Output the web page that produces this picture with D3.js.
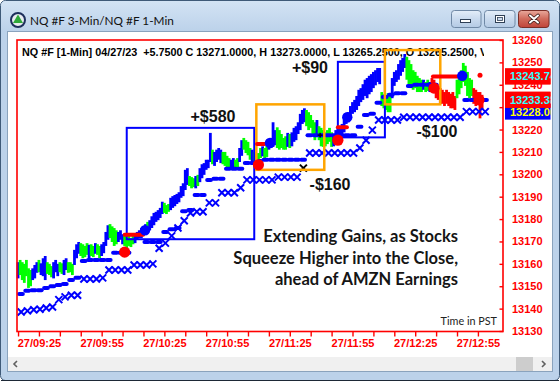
<!DOCTYPE html>
<html><head><meta charset="utf-8">
<script src="https://cdn.jsdelivr.net/npm/d3@7"></script>
<style>
html,body{margin:0;padding:0;background:#fff;}
svg{display:block;}
</style></head><body>
<svg id="c" width="560" height="381"></svg>
<script>
// ================= DATA =================
const windowTitle = "NQ #F 3-Min/NQ #F 1-Min";
const headerText = "NQ #F [1-Min] 04/27/23  +5.7500 C 13271.0000, H 13273.0000, L 13265.2500, O 13265.2500, V 412";
const firstBarTime = "09:15";
// 1-minute bars (high / low / paint colour B=blue G=green R=red)
const barHigh = [13160.75,13161.75,13160.75,13160.0,13161.75,13158.0,13157.25,13158.0,13159.5,13160.75,
13161.75,13160.25,13162.5,13163.5,13160.75,13160.0,13159.0,13160.75,13161.75,13160.0,
13160.75,13160.25,13161.75,13162.5,13160.75,13160.75,13160.0,13166.25,13168.75,13169.75,
13169.25,13168.75,13168.0,13169.25,13168.5,13168.75,13168.0,13169.25,13168.75,13168.0,
13168.75,13169.75,13174.25,13177.25,13177.75,13176.75,13176.0,13175.0,13174.25,13175.0,
13173.25,13172.5,13171.5,13172.5,13171.5,13172.5,13172.75,13174.25,13175.0,13176.0,
13176.75,13177.75,13178.75,13179.5,13181.25,13182.75,13183.25,13184.0,13185.0,13187.75,
13187.25,13186.25,13186.75,13189.5,13190.25,13190.75,13191.25,13192.0,13194.75,13196.0,
13202.0,13202.75,13199.25,13198.75,13198.25,13199.25,13199.75,13202.75,13204.5,13205.0,
13206.5,13206.5,13218.5,13211.0,13210.0,13211.0,13211.75,13211.0,13210.0,13210.0,
13208.25,13207.25,13206.5,13207.25,13206.5,13207.25,13211.75,13215.25,13216.25,13215.25,
13214.5,13211.75,13211.0,13210.0,13209.0,13209.5,13211.75,13212.5,13211.75,13213.0,
13215.25,13216.25,13223.25,13219.75,13221.0,13219.75,13218.0,13216.25,13217.0,13218.5,
13218.0,13218.75,13220.75,13221.5,13223.25,13227.0,13228.75,13229.5,13228.75,13227.75,
13226.5,13224.25,13223.25,13224.25,13221.5,13220.75,13219.75,13218.75,13219.75,13220.75,
13218.75,13218.0,13219.75,13220.75,13221.5,13222.5,13224.25,13227.0,13227.75,13230.5,
13232.25,13233.25,13235.0,13237.75,13238.5,13240.25,13242.25,13243.0,13244.0,13244.75,
13245.75,13246.5,13247.5,13247.5,13236.75,13235.75,13235.5,13236.25,13235.0,13243.0,
13245.75,13246.5,13249.25,13251.0,13252.0,13253.75,13252.5,13251.0,13249.25,13246.5,
13245.75,13244.0,13243.0,13242.25,13242.25,13241.25,13242.25,13241.25,13243.0,13242.25,
13240.25,13239.5,13238.5,13237.75,13236.75,13237.75,13236.75,13236.0,13236.75,13235.0,
13242.25,13244.0,13246.5,13249.75,13248.5,13245.75,13243.0,13242.25,13238.5,13237.75,
13236.75,13236.75,13235.5];
const barLow = [13153.5,13155.0,13152.75,13151.5,13154.5,13149.25,13150.0,13152.75,13153.5,13156.0,
13156.25,13155.0,13154.5,13152.75,13155.5,13155.0,13154.0,13153.5,13156.25,13154.5,
13156.25,13155.5,13155.0,13157.25,13156.0,13156.25,13155.0,13159.5,13162.5,13164.5,
13163.5,13162.5,13163.0,13164.0,13162.5,13163.5,13163.0,13164.5,13164.0,13162.5,
13163.5,13164.75,13168.0,13170.75,13171.5,13169.75,13168.0,13168.75,13169.75,13170.75,
13168.75,13168.0,13167.0,13168.0,13167.5,13168.75,13169.25,13170.75,13171.5,13171.5,
13172.5,13173.25,13174.25,13175.0,13176.0,13177.25,13178.75,13179.5,13180.5,13182.25,
13182.75,13182.25,13183.25,13184.0,13185.0,13185.75,13186.75,13187.5,13189.5,13190.25,
13193.0,13195.25,13194.75,13193.75,13194.25,13193.75,13194.75,13196.5,13198.25,13199.75,
13202.0,13202.75,13205.5,13204.5,13203.75,13205.5,13206.5,13205.0,13204.5,13203.75,
13202.75,13202.0,13202.0,13202.75,13202.0,13202.75,13205.5,13208.25,13211.0,13209.5,
13208.5,13206.5,13205.5,13205.5,13204.5,13206.5,13207.25,13208.0,13206.5,13207.75,
13211.0,13211.75,13212.25,13213.0,13211.75,13211.0,13211.75,13211.0,13211.0,13212.25,
13211.75,13212.5,13214.5,13215.25,13218.0,13219.75,13222.5,13223.25,13221.5,13219.75,
13220.75,13217.5,13215.25,13217.0,13215.25,13212.5,13212.25,13212.5,13213.5,13214.5,
13212.25,13212.5,13214.5,13215.25,13216.75,13217.5,13218.75,13222.5,13223.25,13225.5,
13227.0,13227.75,13228.75,13230.5,13232.25,13233.25,13235.0,13234.0,13235.75,13236.75,
13238.5,13239.75,13241.25,13240.25,13230.5,13229.5,13228.75,13227.75,13227.75,13234.0,
13239.5,13241.25,13242.25,13244.0,13245.75,13247.5,13242.25,13240.25,13238.5,13237.75,
13238.5,13236.75,13236.75,13236.75,13237.75,13236.75,13237.25,13236.75,13237.75,13236.75,
13234.0,13233.25,13231.5,13231.5,13230.5,13231.5,13230.5,13229.5,13229.5,13228.75,
13234.0,13235.75,13238.5,13241.25,13239.5,13235.0,13234.0,13235.0,13231.5,13230.5,
13231.5,13225.0,13228.75];
const barColor = ("B GGGGGG BBB G BBB GGG BBB GG BB GGG BBB GGGG B GG B GG BBBB GGGG BBB GGGGG BBBB G B G " +
  "BBBBBBB GGG BBBBBBBBB GGG B G BBBBBB G BBBB GGGG BB GG BB GGGG B GGGG B GG BBBB GGGGG B G BBBBBBB " +
  "GGGGG B GGGGGGG BBBBBBBBBBBBBBBBBBBBBBB GGGGG BBBBBBB GGGGGGGG B GG B RRRRRRRRRRRR GGGGGGGG RRRRR").replace(/ /g, "").split("");

// 3-minute indicator values (one per 3-min bar from 09:15)
const trailDots = [13146.5,13148.0,13148.25,13148.25,13149.25,13150.0,13150.5,13151.0,13152.75,13153.75,
13161.25,13161.75,13161.75,13161.75,13161.75,13165.0,13165.0,13165.0,null,null,
13169.75,13169.75,13169.75,13174.25,13175.5,13176.0,13183.5,13184.0,13190.75,13190.75,
13197.5,13198.0,13198.0,13202.5,13202.5,13202.5,13205.0,13205.0,13206.0,13206.5,
13206.5,13206.5,13206.5,13206.5,13206.5,13206.5,13217.5,13217.5,13217.5,13217.5,
13217.5,13217.5,13217.5,13217.5,13221.25,13226.5,13227.0,13232.0,13234.5,13235.5,
13236.25,13236.25,13239.5,13240.0,13240.0,13240.0,13240.0,null,null,null,
null,13233.25,13233.25,13233.25,13233.25];
const bandX = [13138.5,13139.0,13139.5,13139.75,13140.25,13140.75,13144.0,13145.25,13146.0,13146.0,
13153.25,13153.25,13153.25,13153.75,13157.25,13157.25,13157.25,13157.25,13159.5,13159.5,
13159.5,13160.0,13167.0,13169.25,13172.5,13176.0,13179.25,13182.75,13183.25,13183.25,
13187.25,13187.25,13191.75,13191.75,13191.75,13194.0,13197.5,13197.5,13197.5,13197.5,
13197.5,13198.75,13198.75,13198.75,13198.75,13202.75,13209.5,13209.5,13209.5,13209.5,
13209.5,13209.5,13209.5,13209.5,13211.75,13215.25,13219.75,13224.25,13224.25,13224.25,
13224.25,13225.5,13225.5,13225.5,13225.5,13225.5,13225.5,13225.5,13225.5,13225.5,
13225.5,13228.0,13228.0,13228.0,13228.0];
const bandXBlackIdx = [45];

// trade boxes
const boxStart = ["10:07", "11:09", "11:48", "12:10:30"];
const boxEnd   = ["11:08", "11:41:30", "12:10:30", "12:37"];
const boxLow   = [13171.0, 13202.0, 13216.5, 13231.25];
const boxHigh  = [13220.75, 13231.25, 13250.25, 13255.5];
const boxKind  = ["win", "loss", "win", "loss"];
// trade results
const annTime  = ["10:48:15", "11:44:15", "11:34:40", "12:35:25"];
const annPrice = [13223.25, 13193.0, 13245.25, 13216.5];
const annText  = ["+$580", "-$160", "+$90", "-$100"];
// stop lines
const stopStart = ["10:06", "11:09:20", "11:48", "12:33:30"];
const stopEnd   = ["10:14:50", "11:13", "11:52:20", "12:48"];
const stopPrice = [13173.0, 13213.5, 13221.0, 13243.75];
// entry / exit dots
const redDotTime  = ["10:06", "11:10", "11:48", "12:34", "12:55:30"];
const redDotPrice = [13165.25, 13204.25, 13215.25, 13238.5, 13233.25];
const blueDotTime  = ["10:15:45", "11:15:30", "11:52:30", "12:47:30"];
const blueDotPrice = [13175.0, 13214.0, 13225.5, 13244.0];
const smallRedTime = ["12:56"], smallRedPrice = [13244.25];
const plusTime = ["11:39:30"], plusPrice = [13217.5];
// axes
const yTickValues = [13260,13250,13240,13230,13220,13210,13200,13190,13180,13170,13160,13150,13140,13130];
const xTickTimes = ["09:15","09:25","09:35","09:45","09:55","10:05","10:15","10:25","10:35","10:45","10:55","11:05",
  "11:15","11:25","11:35","11:45","11:55","12:05","12:15","12:25","12:35","12:45","12:55"];
const xTickLabels = {"09:25":"27/09:25","09:55":"27/09:55","10:25":"27/10:25","10:55":"27/10:55",
  "11:25":"27/11:25","11:55":"27/11:55","12:25":"27/12:25","12:55":"27/12:55"};
// price flags on the right
const flagPrice = [13228.0, 13243.74, 13233.3];
const flagText  = ["13228.00", "13243.74", "13233.38"];
const flagKind  = ["band", "stop", "stop"];
const noteLines = ["Extending Gains, as Stocks", "Squeeze Higher into the Close,", "ahead of AMZN Earnings"];
const timeNote = "Time in PST";

// ================= DRAW =================
const svg = d3.select("#c");
const parseT = s => d3.timeParse(s.length > 5 ? "%H:%M:%S" : "%H:%M")(s);
const addMin = (d, m) => new Date(d.getTime() + m * 60000);
const t0 = parseT(firstBarTime);

const defs = svg.append("defs");
const gTitle = defs.append("linearGradient").attr("id","gt").attr("x1",0).attr("y1",0).attr("x2",0).attr("y2",1);
gTitle.append("stop").attr("offset","0").attr("stop-color","#d3e3f4");
gTitle.append("stop").attr("offset","1").attr("stop-color","#bcd2ea");
const gBtn = defs.append("linearGradient").attr("id","gb").attr("x1",0).attr("y1",0).attr("x2",0).attr("y2",1);
gBtn.append("stop").attr("offset","0").attr("stop-color","#e4eef9");
gBtn.append("stop").attr("offset","0.5").attr("stop-color","#c9daee");
gBtn.append("stop").attr("offset","1").attr("stop-color","#b4cae4");
const gCl = defs.append("linearGradient").attr("id","gc").attr("x1",0).attr("y1",0).attr("x2",0).attr("y2",1);
gCl.append("stop").attr("offset","0").attr("stop-color","#e9a99c");
gCl.append("stop").attr("offset","0.5").attr("stop-color","#d06a5b");
gCl.append("stop").attr("offset","1").attr("stop-color","#c0443a");
defs.append("clipPath").attr("id","hdr").append("rect").attr("x",18).attr("y",41).attr("width",466).attr("height",20);
defs.append("clipPath").attr("id","flags").append("rect").attr("x",504).attr("y",32).attr("width",46.5).attr("height",320);

// window frame
svg.append("rect").attr("x",0.5).attr("y",0.5).attr("width",559).attr("height",380).attr("rx",5)
  .attr("fill","#bcd2ea").attr("stroke","#3f5a78");
svg.append("path").attr("d","M1,6 Q1,1 6,1 H554 Q559,1 559,6 V31 H1 Z").attr("fill","url(#gt)");
svg.append("line").attr("x1",1).attr("x2",559).attr("y1",380.5).attr("y2",380.5).attr("stroke","#1d2836");
svg.append("rect").attr("x",7.5).attr("y",31.5).attr("width",545).attr("height",340).attr("fill","#fff").attr("stroke","#8aa3bd");
// scrollbar
svg.append("rect").attr("x",8).attr("y",357).attr("width",544).attr("height",14).attr("fill","#f0f0f0");
svg.append("rect").attr("x",516).attr("y",357).attr("width",17).attr("height",14).attr("fill","#cdcdcd");
svg.append("path").attr("d","M17,361 L14,364 L17,367").attr("fill","none").attr("stroke","#606060").attr("stroke-width",1.6);
svg.append("path").attr("d","M542,361 L545,364 L542,367").attr("fill","none").attr("stroke","#606060").attr("stroke-width",1.6);

// title icon and text
svg.append("circle").attr("cx",18).attr("cy",20).attr("r",7).attr("fill","#e8ecf0").attr("stroke","#1d2f5c").attr("stroke-width",2);
svg.append("path").attr("d","M18,14.5 L23,23 L13,23 Z").attr("fill","#2fa83a");
svg.append("text").attr("x",30).attr("y",24.5).text(windowTitle)
  .attr("font-family","Lato, 'Noto Sans', sans-serif").attr("font-size",11.8).attr("fill","#111");
// window buttons
svg.append("rect").attr("x",451.5).attr("y",10.5).attr("width",29.5).attr("height",17).attr("rx",3).attr("fill","url(#gb)").attr("stroke","#6f88a5");
svg.append("rect").attr("x",460.5).attr("y",19.5).attr("width",10).attr("height",3).attr("fill","#fff").attr("stroke","#2e3f55");
svg.append("rect").attr("x",484.5).attr("y",10.5).attr("width",30.5).attr("height",17).attr("rx",3).attr("fill","url(#gb)").attr("stroke","#6f88a5");
svg.append("rect").attr("x",495.5).attr("y",15.5).attr("width",9).attr("height",7).attr("fill","#fff").attr("stroke","#2e3f55");
svg.append("rect").attr("x",497.5).attr("y",17.5).attr("width",5).attr("height",3).attr("fill","#c9daee").attr("stroke","#2e3f55").attr("stroke-width",0.8);
svg.append("rect").attr("x",518.5).attr("y",10.5).attr("width",30.5).attr("height",17).attr("rx",3).attr("fill","url(#gc)").attr("stroke","#7a2e27");
svg.append("path").attr("d","M530,15.5 L538,22.5 M538,15.5 L530,22.5").attr("stroke","#3a1a17").attr("stroke-width",3.6).attr("stroke-linecap","round");
svg.append("path").attr("d","M530,15.5 L538,22.5 M538,15.5 L530,22.5").attr("stroke","#fff").attr("stroke-width",2).attr("stroke-linecap","round");

// scales
const x = d3.scaleTime().domain([parseT("09:14:30"), parseT("13:07")]).range([17, 503]);
const y = d3.scaleLinear().domain([13130, 13260]).range([331, 40]);

// header
svg.append("text").attr("x",22).attr("y",56).attr("clip-path","url(#hdr)")
  .style("white-space","pre").text(headerText)
  .attr("font-family","'Liberation Sans', Arial, sans-serif").attr("font-weight","bold").attr("font-size",10.8).attr("fill","#000");

const plot = svg.append("g");
const colorMap = {B:"#0000ff", G:"#00ff00", R:"#ff0000"};
// bars
const bars = barHigh.map((h, i) => ({t: addMin(t0, i), h, l: barLow[i], c: barColor[i] || "B"}));
plot.append("g").selectAll("line").data(bars).join("line")
  .attr("x1", d => x(d.t)).attr("x2", d => x(d.t))
  .attr("y1", d => y(d.h)).attr("y2", d => y(d.l))
  .attr("stroke", d => colorMap[d.c]).attr("stroke-width", 2.8);

// X band (3-min)
const bandData = bandX.map((v, k) => ({t: addMin(t0, 3 * k + 1.5), v, k}));
plot.append("g").selectAll("path").data(bandData).join("path")
  .attr("transform", d => `translate(${x(d.t)},${y(d.v)})`)
  .attr("d", "M-3.5,-3.5L3.5,3.5M-3.5,3.5L3.5,-3.5")
  .attr("stroke", d => bandXBlackIdx.includes(d.k) ? "#000" : "#0000ff").attr("stroke-width", 2).attr("fill","none");

// trailing dots (3-min)
const dotData = trailDots.map((v, k) => ({a: addMin(t0, 3 * k), b: addMin(t0, 3 * k + 3), v})).filter(d => d.v != null);
plot.append("g").selectAll("line").data(dotData).join("line")
  .attr("x1", d => x(d.a) + 1).attr("x2", d => x(d.b) - 1.5)
  .attr("y1", d => y(d.v)).attr("y2", d => y(d.v))
  .attr("stroke", "#0000ff").attr("stroke-width", 4).attr("stroke-linecap", "round");

// boxes
const boxes = boxStart.map((s, i) => ({a: parseT(s), b: parseT(boxEnd[i]), lo: boxLow[i], hi: boxHigh[i], k: boxKind[i]}));
plot.append("g").selectAll("rect").data(boxes).join("rect")
  .attr("x", d => x(d.a)).attr("y", d => y(d.hi))
  .attr("width", d => x(d.b) - x(d.a)).attr("height", d => y(d.lo) - y(d.hi))
  .attr("fill", "none").attr("stroke", d => d.k === "win" ? "#0000ff" : "#ffa500")
  .attr("stroke-width", d => d.k === "win" ? 2 : 2.5);

// stop lines
plot.append("g").selectAll("line").data(stopStart.map((s, i) => ({a: parseT(s), b: parseT(stopEnd[i]), v: stopPrice[i]}))).join("line")
  .attr("x1", d => x(d.a)).attr("x2", d => x(d.b)).attr("y1", d => y(d.v)).attr("y2", d => y(d.v))
  .attr("stroke", "#ff0000").attr("stroke-width", 4).attr("stroke-linecap", "round");
plot.append("g").selectAll("circle").data(smallRedTime.map((s, i) => ({t: parseT(s), v: smallRedPrice[i]}))).join("circle")
  .attr("cx", d => x(d.t)).attr("cy", d => y(d.v)).attr("r", 2.5).attr("fill", "#ff0000");
// plus marker
plot.append("g").selectAll("path").data(plusTime.map((s, i) => ({t: parseT(s), v: plusPrice[i]}))).join("path")
  .attr("transform", d => `translate(${x(d.t)},${y(d.v)})`).attr("d","M-2.5,0H2.5M0,-2.5V2.5")
  .attr("stroke","#000").attr("stroke-width",1.3);

// dots
plot.append("g").selectAll("circle").data(blueDotTime.map((s, i) => ({t: parseT(s), v: blueDotPrice[i]}))).join("circle")
  .attr("cx", d => x(d.t)).attr("cy", d => y(d.v)).attr("r", 5.2).attr("fill", "#0000ff");
plot.append("g").selectAll("circle").data(redDotTime.map((s, i) => ({t: parseT(s), v: redDotPrice[i]}))).join("circle")
  .attr("cx", d => x(d.t)).attr("cy", d => y(d.v)).attr("r", 5.6).attr("fill", "#ff0000");

// annotations
plot.append("g").selectAll("text").data(annText.map((s, i) => ({s, t: parseT(annTime[i]), v: annPrice[i]}))).join("text")
  .attr("x", d => x(d.t)).attr("y", d => y(d.v)).attr("text-anchor","middle").text(d => d.s)
  .attr("font-family","'Liberation Sans', Arial, sans-serif").attr("font-weight","bold").attr("font-size",16).attr("fill","#111");

// note block
svg.append("g").selectAll("text").data(noteLines).join("text")
  .attr("x", 458).attr("y", (d, i) => 242 + i * 21.5).attr("text-anchor","end").text(d => d)
  .attr("font-family","Lato, 'Open Sans', sans-serif").attr("font-weight","bold").attr("font-size",16.5).attr("fill","#151515");
svg.append("text").attr("x",497).attr("y",325).attr("text-anchor","end").text(timeNote)
  .attr("font-family","Lato, 'Open Sans', sans-serif").attr("font-size",10.8).attr("fill","#222");

// plot frame
svg.append("rect").attr("x",17).attr("y",40).attr("width",486).attr("height",291.5)
  .attr("fill","none").attr("stroke","#ff0000").attr("stroke-width",1.6);

// axes
const yAxis = d3.axisRight(y).tickValues(yTickValues).tickSizeInner(-3.5).tickSizeOuter(0).tickPadding(9).tickFormat(d3.format("d"));
const gy = svg.append("g").attr("transform","translate(503,0)").call(yAxis);
gy.select(".domain").remove();
gy.selectAll("line").attr("stroke","#ff0000").attr("stroke-width",1.4);
gy.selectAll("text").attr("fill","#ff0000").attr("font-family","'Liberation Sans', Arial, sans-serif").attr("font-weight","bold").attr("font-size",11);

const xAxis = d3.axisBottom(x).tickValues(xTickTimes.map(parseT)).tickSizeInner(5).tickSizeOuter(0).tickPadding(3)
  .tickFormat(d => xTickLabels[d3.timeFormat("%H:%M")(d)] || "");
const gx = svg.append("g").attr("transform","translate(0,331.5)").call(xAxis);
gx.select(".domain").remove();
gx.selectAll("line").attr("stroke","#ff0000").attr("stroke-width",1.4);
gx.selectAll("text").attr("fill","#ff0000").attr("font-family","'Liberation Sans', Arial, sans-serif").attr("font-weight","bold").attr("font-size",11);

// price flags
const gf = svg.append("g").attr("clip-path","url(#flags)");
const flags = flagPrice.map((v, i) => ({v, s: flagText[i], k: flagKind[i]}));
gf.selectAll("rect").data(flags).join("rect")
  .attr("x", 505).attr("y", d => y(d.v) - 8).attr("width", 50).attr("height", 16)
  .attr("fill", d => d.k === "band" ? "#0000ff" : "#ff0000");
gf.selectAll("text").data(flags).join("text")
  .attr("x", 510).attr("y", d => y(d.v) + 4).text(d => d.s)
  .attr("fill", d => d.k === "band" ? "#ffff00" : "#33ffff")
  .attr("font-family","'Liberation Sans', Arial, sans-serif").attr("font-weight","bold").attr("font-size",11);
gf.selectAll("rect.top").data(flags.filter(d => d.k === "stop")).join("rect").attr("class","top")
  .attr("x", 505).attr("y", d => y(d.v) - 8).attr("width", 50).attr("height", 16).attr("fill", "#ff0000");
gf.selectAll("text.top").data(flags.filter(d => d.k === "stop")).join("text").attr("class","top")
  .attr("x", 510).attr("y", d => y(d.v) + 4).text(d => d.s).attr("fill","#33ffff")
  .attr("font-family","'Liberation Sans', Arial, sans-serif").attr("font-weight","bold").attr("font-size",11);
</script>
</body></html>
